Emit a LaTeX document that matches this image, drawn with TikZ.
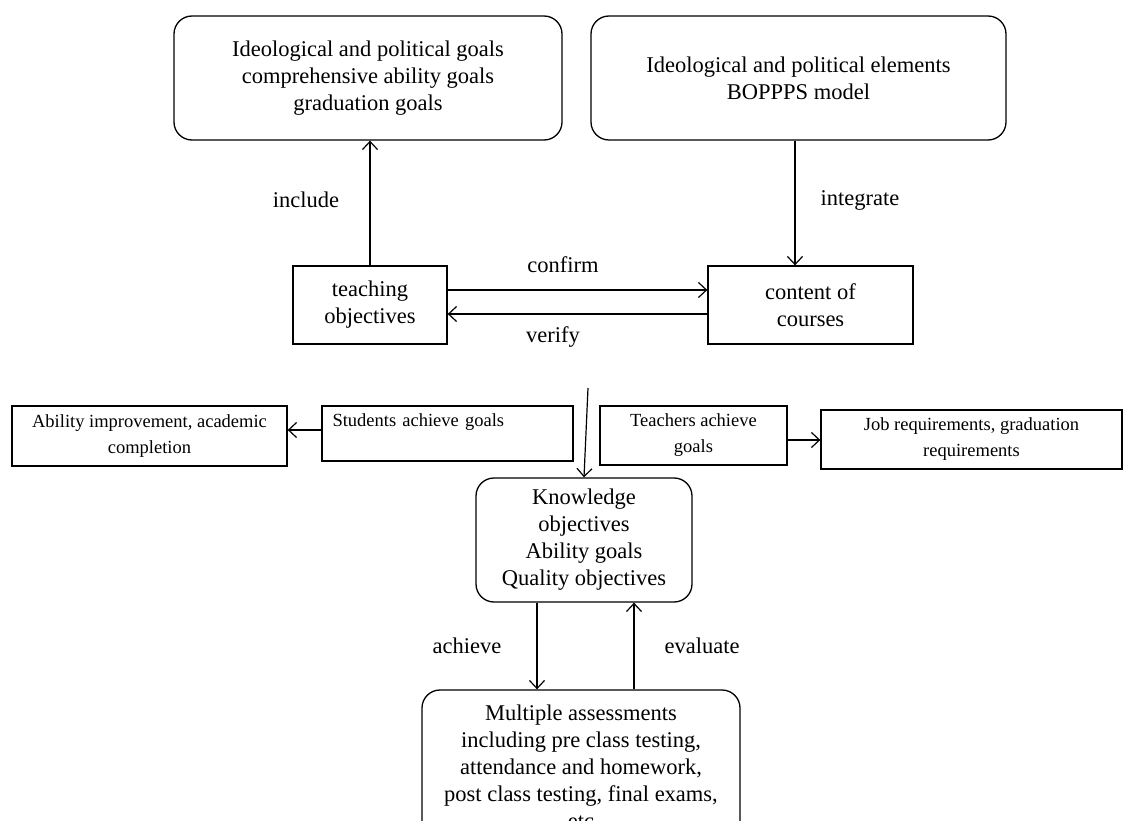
\documentclass[tikz,border=0pt]{standalone}
\usepackage{fontspec}
\setmainfont{Liberation Serif}
\usetikzlibrary{arrows.meta}
\begin{document}
\begin{tikzpicture}[x=1pt,y=-1pt,
  every node/.style={font=\fontsize{22.5}{27}\selectfont, inner sep=0pt},
  box/.style={draw, line width=1.3pt, align=center},
  rbox/.style={box, rounded corners=18pt},
  sbox/.style={box, font=\fontsize{18.5}{26}\selectfont},
  arr/.style={line width=1.2pt, -{Straight Barb[length=8pt,width=15pt,line width=1.2pt]}}]
\useasboundingbox (0,0) rectangle (1125,821);
\clip (0,0) rectangle (1125,821);
% top boxes
\node[rbox, minimum width=388, minimum height=124] (tl) at (368,78)
  {Ideological and political goals\\comprehensive ability goals\\graduation goals};
\node[rbox, minimum width=415, minimum height=124] (tr) at (798.5,78)
  {Ideological and political elements\\BOPPPS model};
% middle
\node[box, minimum width=154, minimum height=78] (teach) at (370,305) {teaching\\objectives};
\node[box, minimum width=205, minimum height=78] (content) at (810.5,305) {content of\\courses};
% side boxes
\node[sbox, minimum width=275, minimum height=60] (ability) at (149.5,436) {Ability improvement, academic\\completion};
\node[sbox, minimum width=251, minimum height=55, text width=230pt, align=left] (students) at (447.5,433.5) {Students achieve goals\\\mbox{}};
\node[sbox, minimum width=187, minimum height=59] (teachers) at (693.5,435.5) {Teachers achieve\\goals};
\node[sbox, minimum width=301, minimum height=59] (job) at (971.5,439.5) {Job requirements, graduation\\requirements};
% knowledge
\node[rbox, minimum width=216, minimum height=124] (know) at (584,540) {Knowledge\\objectives\\Ability goals\\Quality objectives};
\node[rbox, minimum width=318, minimum height=154] (assess) at (581,767)
  {Multiple assessments\\including pre class testing,\\attendance and homework,\\post class testing, final exams,\\etc};
% connectors
\draw[arr] (teach.north) -- (tl.south -| teach.north);
\draw[arr] (tr.south -| 795,0) -- (content.north -| 795,0);
\draw[arr] ([yshift=15pt]teach.east) -- ([yshift=15pt]content.west);
\draw[arr] ([yshift=-9pt]content.west) -- ([yshift=-9pt]teach.east);
\coordinate (kin) at (588,388);
\draw[arr] (kin) -- (know.north);
\draw[arr] ([yshift=3.5pt]students.west) -- ([yshift=3.5pt]students.west -| ability.east);
\draw[arr] ([yshift=-4.5pt]teachers.east) -- ([yshift=-4.5pt]teachers.east -| job.west);
\draw[arr] (know.south -| 537,0) -- (assess.north -| 537,0);
\draw[arr] (assess.north -| 634,0) -- (know.south -| 634,0);
% labels
\node (linc) at (306,200) {include};
\node (lint) at (860,200) {integrate};
\node (lcon) at (563,265) {confirm};
\node (lver) at (553,337) {verify};
\node (lach) at (467,646) {achieve};
\node (leva) at (702,646) {evaluate};
\end{tikzpicture}
\end{document}
